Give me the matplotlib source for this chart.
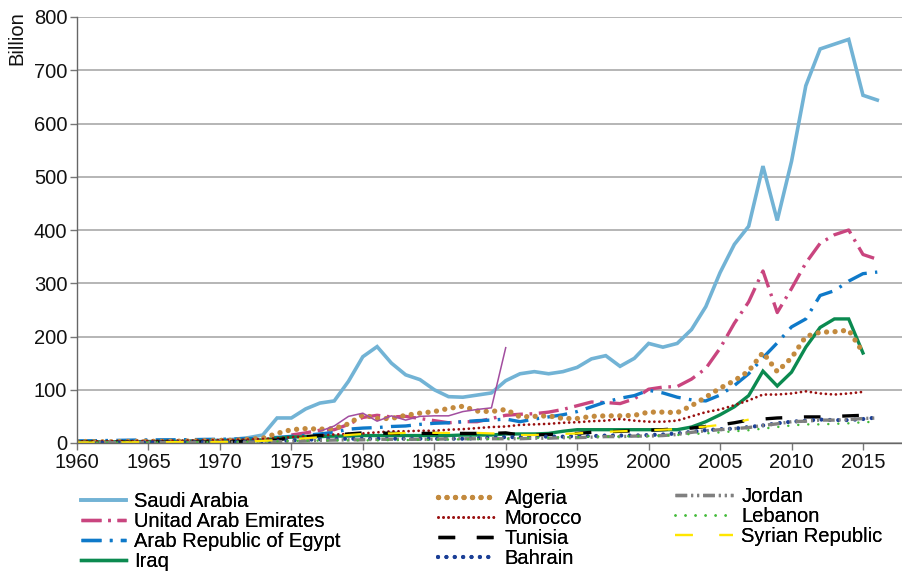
import numpy as np
import matplotlib
matplotlib.use("Agg")
import matplotlib.pyplot as plt

plt.rcParams['font.family'] = ['Liberation Sans', 'DejaVu Sans']

nan = np.nan
years = list(range(1960, 2017))

saudi = [nan]*8 + [4, 4.5,
         5.4, 7, 10, 15, 47, 47, 64, 75, 79, 116,
         162, 181, 150, 128, 119, 100, 87, 86, 90, 94,
         117, 130, 134, 130, 134, 142, 158, 164, 144, 159,
         187, 180, 187, 213, 256, 320, 373, 407, 520, 418,
         529, 671, 740, 749, 758, 653, 644]
uae = [nan]*15 + [15, 19, 24, 25, 35,
       48, 52, 49, 50, 46, 42, 38, 40, 40, 46,
       52, 54, 55, 58, 63, 70, 77, 76, 74, 83,
       101, 105, 106, 120, 140, 178, 225, 265, 323, 245,
       290, 338, 375, 391, 400, 354, 345]
egypt = [4, 4.2, 4.6, 5, 5.5, 5.8, 6, 6.1, 6.3, 6.8,
         7, 7.5, 8.2, 9, 10.5, 12.5, 14.5, 17, 20, 26,
         28, 29, 31, 32, 35, 37, 38, 40, 42, 43,
         45, 40, 45, 49, 53, 59, 68, 77, 84, 89,
         99, 94, 86, 81, 79, 90, 108, 130, 160, 188,
         218, 233, 277, 286, 304, 318, 321]
iraq = [2, 2.1, 2.2, 2.3, 2.5, 2.8, 3, 3.1, 3.3, 3.5,
        3.8, 4.5, 5, 6, 9, 11, 12, 12, 13, 13,
        14, 14, 14, 14, 14, 14, 14, 15, 15, 15,
        17, 17, 17, 18, 22, 25, 25, 25, 25, 25,
        25, 25, 25, 30, 40, 53, 68, 89, 135, 107,
        133, 180, 217, 233, 233, 169, nan]
algeria = [3, 2.6, 2.2, 2.8, 3, 3.2, 3.1, 3.4, 3.8, 4.3,
           5, 5.2, 7, 9, 18, 25, 27, 26, 27, 36,
           53, 46, 46, 52, 56, 59, 65, 69, 60, 59,
           63, 49, 50, 51, 46, 46, 50, 51, 51, 52,
           58, 58, 57, 70, 86, 103, 117, 135, 170, 134,
           160, 200, 208, 209, 212, 170, nan]
morocco = [3, 3.2, 3.4, 3.6, 3.8, 4, 4.2, 4.4, 4.7, 5,
           5.5, 6, 6.5, 7.5, 9, 11, 12, 14, 16, 17,
           18, 20, 22, 22, 23, 23, 25, 26, 28, 30,
           31, 34, 35, 36, 38, 39, 41, 42, 45, 42,
           40, 40, 42, 50, 58, 63, 71, 80, 91, 91,
           93, 97, 93, 91, 93, 96, nan]
tunisia = [1, 1.1, 1.2, 1.3, 1.4, 1.5, 1.6, 1.7, 1.8, 1.9,
           2.2, 2.6, 3.2, 4, 5.5, 10, 12, 14, 15, 17,
           19, 19, 18, 18, 18, 18, 18, 18, 18, 18,
           19, 15, 15, 16, 17, 18, 20, 21, 22, 23,
           24, 25, 27, 28, 31, 34, 38, 43, 45, 47,
           48, 49, 49, 50, 51, 52, 53]
bahrain = [0.5, 0.6, 0.7, 0.8, 0.9, 1, 1.1, 1.2, 1.3, 1.4,
           1.6, 1.8, 2, 2.5, 3.5, 5, 6, 7, 7.5, 8,
           8, 8, 8, 8, 8, 8, 8, 8, 9, 10,
           11, 11, 12, 12, 12, 13, 13, 14, 14, 14,
           15, 16, 18, 21, 24, 26, 27, 30, 33, 37,
           40, 42, 44, 43, 43, 45, 48]
jordan = [0.5, 0.55, 0.6, 0.65, 0.7, 0.8, 0.9, 1, 1, 1.1,
          1.2, 1.3, 1.5, 2, 2.5, 3, 4, 5, 5.5, 6,
          6, 7, 7, 7, 7, 7, 8, 8, 8, 8,
          8, 8, 9, 9, 10, 10, 11, 12, 12, 13,
          13, 14, 16, 20, 23, 25, 27, 29, 33, 36,
          40, 41, 43, 43, 44, 46, 47]
lebanon = [0.8, 0.9, 1, 1.1, 1.2, 1.3, 1.4, 1.5, 1.6, 1.7,
           1.8, 2, 2.3, 2.7, 3.2, 4, 4.2, 4.5, 4.8, 5,
           5, 5, 5.5, 5.5, 6, 6, 6.5, 7, 7, 7.5,
           8, 9, 10, 10, 11, 11, 12, 12, 12, 13,
           13, 14, 15, 17, 18, 20, 22, 24, 27, 30,
           33, 35, 35, 36, 37, 39, 40]
syria = [1, 1.1, 1.2, 1.3, 1.4, 1.5, 1.6, 1.7, 1.8, 1.9,
         2, 2.4, 3, 4, 5.5, 7, 9, 11, 13, 15,
         17, 18, 18, 19, 19, 19, 19, 19, 19, 18,
         18, 15, 15, 16, 17, 18, 20, 21, 22, 23,
         24, 25, 26, 28, 31, 34, 38, 44] + [nan]*9
other = [nan]*17 + [22, 32, 50,
         56, 41, 51, 43, 50, 51, 51, 59, 63, 66,
         179] + [nan]*26

fs = 14.5
fig = plt.figure(figsize=(9.03, 5.71), dpi=100)
ax = fig.add_axes([77/903, 1-443/571, 826/903, 426/571])

# (label, values, color, linewidth, dashes)
series = [
    ("Saudi Arabia", saudi, "#72b3d5", 2.6, None),
    ("Unitad Arab Emirates", uae, "#c9457f", 2.4, (6, 2, 0.8, 2)),
    ("Arab Republic of Egypt", egypt, "#0e79c9", 2.4, (6, 2.5, 0.8, 2.5)),
    ("Iraq", iraq, "#0b8a50", 2.4, None),
    ("Algeria", algeria, "#c38a3e", 3.8, (0.01, 1.6)),
    ("Morocco", morocco, "#9a1010", 2.0, (0.01, 1.8)),
    ("Tunisia", tunisia, "#000000", 2.4, (5, 6.5)),
    ("Bahrain", bahrain, "#1b3f96", 3.0, (0.01, 2.0)),
    ("Jordan", jordan, "#808080", 2.4, (3.5, 1.2, 0.6, 1.2, 0.6, 1.2)),
    ("Lebanon", lebanon, "#44bb3a", 1.8, (0.01, 4.0)),
    ("Syrian Republic", syria, "#ffe600", 1.6, (8, 12)),
]

handles = []
for name, vals, col, lw, dash in series:
    if dash is None:
        ln, = ax.plot(years, vals, color=col, lw=lw, solid_joinstyle='miter', label=name)
    else:
        ln, = ax.plot(years, vals, color=col, lw=lw, label=name)
        ln.set_dashes(dash)
        if dash[0] < 0.1:
            ln.set_dash_capstyle('round')
    handles.append(ln)

ax.plot(years, other, color="#a24d9f", lw=1.1)

ax.set_xlim(1960, 2017.8)
ax.set_ylim(0, 800)
ax.set_xticks(range(1960, 2016, 5))
ax.set_yticks(range(0, 801, 100))
ax.tick_params(axis='both', labelsize=fs, colors='#777777', labelcolor='#111111',
               length=5, width=1)
ax.tick_params(axis='x', pad=2.5)
ax.tick_params(axis='y', pad=2)
ax.yaxis.grid(True, color='#b0b0b0', lw=1.3)
ax.set_axisbelow(True)
for s in ['top', 'right']:
    ax.spines[s].set_visible(False)
for s in ['left', 'bottom']:
    ax.spines[s].set_color('#666666')
    ax.spines[s].set_linewidth(1.0)

fig.text(17/903, 1-38/571, "Billion", rotation=90, ha='center', va='center',
         fontsize=fs, color='#111111')

cols = [(handles[0:4], 81, 492, 2.25), (handles[4:8], 438, 489, 2.9),
        (handles[8:11], 675, 487, 2.9)]
for hs, x0, y0, hl in cols:
    leg = fig.legend(handles=hs, loc='upper left', bbox_to_anchor=(x0/903, 1-y0/571),
                     frameon=False, fontsize=fs, handlelength=hl, handletextpad=0.4,
                     labelspacing=0.05, borderpad=0, borderaxespad=0)
    fig.add_artist(leg)

fig.savefig("out.png", dpi=100)
